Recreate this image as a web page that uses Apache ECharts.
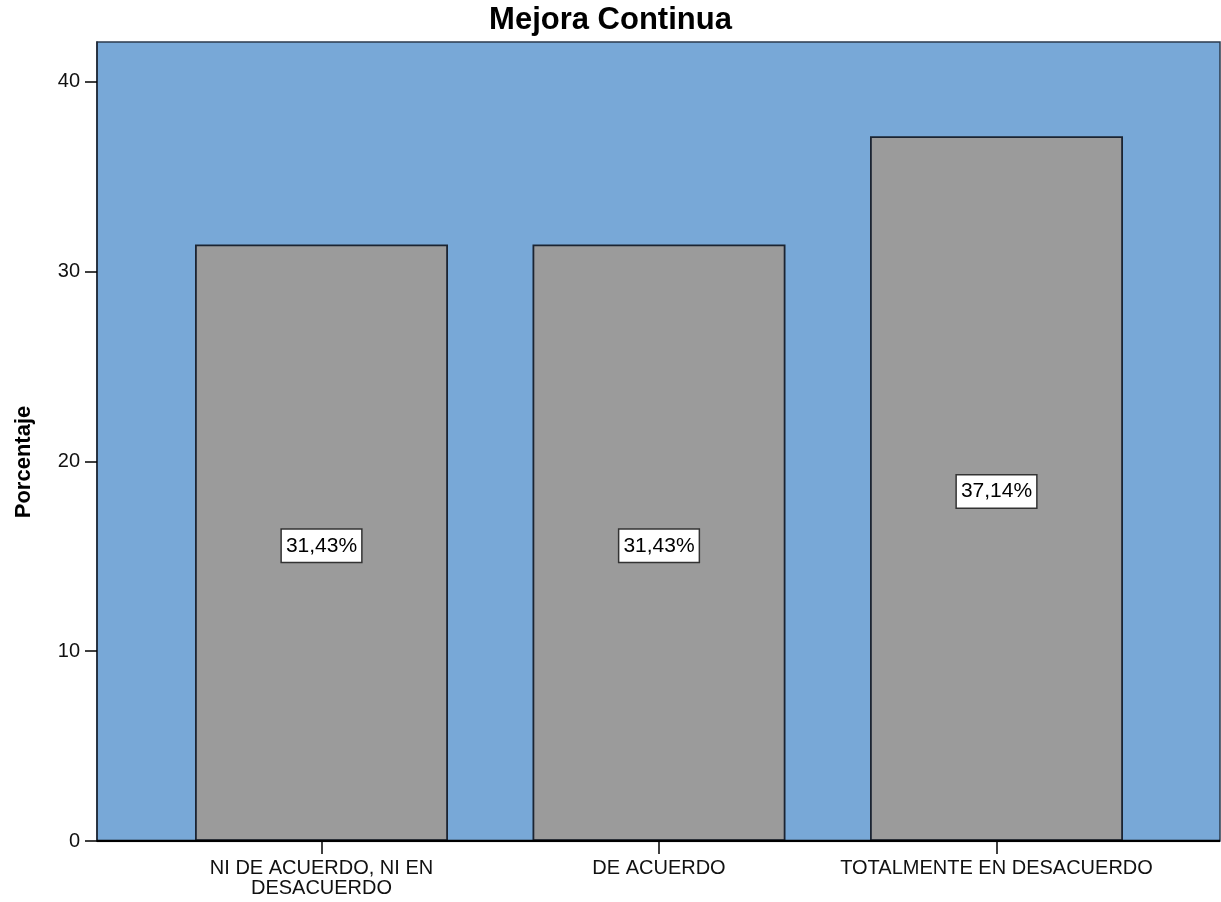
<!DOCTYPE html>
<html>
<head>
<meta charset="utf-8">
<title>Mejora Continua</title>
<script src="https://cdn.jsdelivr.net/npm/echarts@6/dist/echarts.min.js"></script>
<style>
  html, body { margin: 0; padding: 0; background: #ffffff; }
  #chart { width: 1221px; height: 902px; }
</style>
</head>
<body>
<div id="chart"></div>
<script>
// Response categories and their share of answers (%)
const categories = ['NI DE ACUERDO, NI EN\nDESACUERDO', 'DE ACUERDO', 'TOTALMENTE EN DESACUERDO'];
const percentages = [31.43, 31.43, 37.14];
const yTicks = [0, 10, 20, 30, 40];

const FONT = '"Liberation Sans", Arial, sans-serif';

const chart = echarts.init(document.getElementById('chart'), null, { renderer: 'canvas' });

chart.setOption({
  animation: false,
  title: {
    text: 'Mejora Continua',
    left: 'center',
    top: 0,
    textStyle: { fontFamily: FONT, fontSize: 31, fontWeight: 'bold', color: '#000' }
  },
  graphic: [{
    type: 'text',
    x: 24,
    y: 462,
    rotation: Math.PI / 2,
    style: {
      text: 'Porcentaje',
      font: 'bold 22px ' + FONT,
      fill: '#000',
      align: 'center',
      verticalAlign: 'middle'
    }
  }],
  grid: [
    // bar area
    { left: 152.75, top: 42, width: 1012.5, height: 799, containLabel: false },
    // plot frame and blue backdrop
    { left: 97, top: 42, width: 1123, height: 799, show: true,
      backgroundColor: '#78a8d7', borderColor: '#2b3a4c', borderWidth: 1.5, z: 0 }
  ],
  xAxis: [
    {
      gridIndex: 0,
      type: 'category',
      data: categories,
      axisLine: { show: false },
      axisTick: { show: true, alignWithLabel: true, interval: 0, length: 13, lineStyle: { color: '#000', width: 1.5 } },
      axisLabel: { interval: 0, margin: 17, fontFamily: FONT, fontSize: 20, lineHeight: 20, color: '#111' }
    },
    { gridIndex: 1, type: 'value', min: 0, max: 1, show: false }
  ],
  yAxis: [
    {
      gridIndex: 0,
      type: 'value',
      min: 0,
      max: 42.1,
      interval: 10,
      offset: 55.75,
      splitLine: { show: false },
      axisLine: { show: true, lineStyle: { color: '#1d2633', width: 1.5 } },
      axisTick: { show: true, customValues: yTicks, length: 12, lineStyle: { color: '#000', width: 1.5 } },
      axisLabel: {
        customValues: yTicks,
        margin: 17, fontFamily: FONT, fontSize: 20, color: '#111'
      }
    },
    {
      gridIndex: 1, type: 'value', min: 0, max: 1, show: true,
      axisLine: { show: false }, axisTick: { show: false }, axisLabel: { show: false },
      splitLine: { show: false }
    }
  ],
  series: [
    {
      type: 'bar',
      xAxisIndex: 0,
      yAxisIndex: 0,
      data: percentages,
      barWidth: 253,
      z: 3,
      itemStyle: { color: '#9b9b9b', borderColor: '#1b2432', borderWidth: 1.8 },
      label: {
        show: true,
        position: 'inside',
        offset: [0, 3],
        formatter: p => p.value.toFixed(2).replace('.', ',') + '%',
        fontFamily: FONT,
        fontSize: 21,
        color: '#000',
        backgroundColor: '#ffffff',
        borderColor: '#333333',
        borderWidth: 1.5,
        padding: [6, 4, 5, 4]
      }
    },
    {
      // bottom axis line drawn across the full frame
      type: 'line',
      xAxisIndex: 1,
      yAxisIndex: 1,
      data: [[0, 0], [1, 0]],
      symbol: 'none',
      z: 4,
      silent: true,
      lineStyle: { color: '#000', width: 2.5 }
    }
  ]
});
</script>
</body>
</html>
